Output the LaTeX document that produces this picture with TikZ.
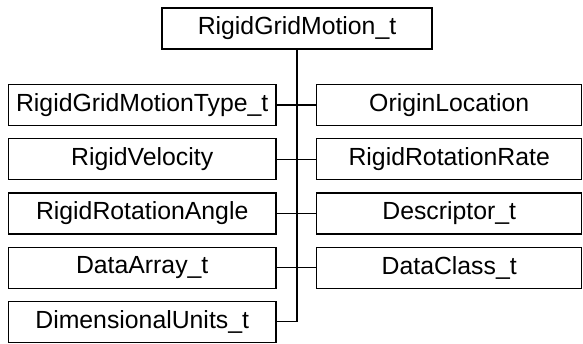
\documentclass[tikz,border=0pt]{standalone}
\usepackage{fontspec}
\setmainfont{Liberation Sans}
\usetikzlibrary{positioning, calc}

\begin{document}
\begin{tikzpicture}[x=1pt, y=-1pt,
  box/.style={draw, line width=1.2pt, inner sep=0pt, minimum height=41pt,
              font=\fontsize{24.8}{28}\selectfont},
  leftbox/.style={box, minimum width=267.5pt},
  rightbox/.style={box, minimum width=265pt},
  branch/.style={line width=1.2pt},
  trunk/.style={line width=1.8pt}]

% Canvas
\useasboundingbox (0,0) rectangle (583,343);

% =========== Root ===========
\node[box, minimum width=270pt] (motion) at (297,28.5) {RigidGridMotion\_t};

% =========== Left column ===========
\node[leftbox] (mtype) at (142.2,105)   {RigidGridMotionType\_t};
\node[leftbox] (vel)   at (142.2,159.2) {RigidVelocity};
\node[leftbox] (angle) at (142.2,213.4) {RigidRotationAngle};
\node[leftbox] (array) at (142.2,267.6) {DataArray\_t};
\node[leftbox] (units) at (142.2,321.6) {DimensionalUnits\_t};

% =========== Right column ===========
\node[rightbox] (origin) at (449.2,105)   {OriginLocation};
\node[rightbox] (rate)   at (449.2,159.2) {RigidRotationRate};
\node[rightbox] (desc)   at (449.2,213.4) {Descriptor\_t};
\node[rightbox] (class)  at (449.2,267.6) {DataClass\_t};

% =========== Connectors ===========
\coordinate (bottom) at (motion.south |- units.east);
\draw[trunk] (motion.south) -- (bottom);
\draw[branch] (mtype.east) -- (origin.west);
\draw[branch] (vel.east) -- (rate.west);
\draw[branch] (angle.east) -- (desc.west);
\draw[branch] (array.east) -- (class.west);
\draw[branch] (units.east) -- (bottom);

\end{tikzpicture}
\end{document}
